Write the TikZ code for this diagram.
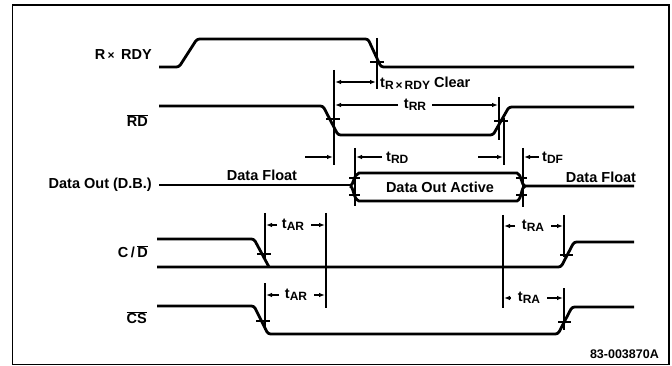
\documentclass[tikz,border=0pt]{standalone}
\usepackage{fontspec}
\setmainfont{Liberation Sans}
\usetikzlibrary{arrows.meta}
\tikzset{
  sig/.style={line width=2.8pt, line join=round, rounded corners=2.5pt},
  dim/.style={line width=1.1pt},
  arr/.style={line width=1.1pt, -{Latex[length=6pt,width=4.5pt]}},
  dblarr/.style={line width=1.1pt, {Latex[length=6pt,width=4.5pt]}-{Latex[length=6pt,width=4.5pt]}},
  tk/.style={line width=1.3pt},
  lbl/.style={font=\bfseries\fontsize{14.5}{16}\selectfont, inner sep=0pt},
  tl/.style={font=\bfseries\fontsize{14.5}{16}\selectfont, inner sep=0pt},
}
\newcommand{\tsub}[1]{t\raisebox{-0.3ex}{\fontsize{12}{12}\selectfont #1}}
\begin{document}
\begin{tikzpicture}[x=1pt,y=-1pt]
\useasboundingbox (0,0) rectangle (672,366);
% frame
\draw[line width=1.4pt] (12.5,5) rectangle (669,364.5);

% labels left
\node[lbl, anchor=east] (lrx) at (152,55) {R\,{\fontsize{12}{12}\selectfont×}\, RDY};
\node[lbl, anchor=east] (lrd) at (148,121) {$\overline{\hbox{RD}}$};
\node[lbl, anchor=east] (ldo) at (152,185) {Data Out (D.B.)};
\node[lbl, anchor=east] (lcd) at (148,252) {C\,/\,$\overline{\hbox{D}}$};
\node[lbl, anchor=east] (lcs) at (147,318) {$\overline{\hbox{CS}}$};

% R x RDY
\draw[sig] (159,67) -- (179,67) -- (197,39) -- (368,39) -- (381,67) -- (634,67);
\draw[dim] (377,38) -- (377,89);
\draw[tk] (370,62) -- (384,62);

% RD
\draw[sig] (159,106) -- (323,106) -- (338,135) -- (493,135) -- (509,107) -- (634,107);
\draw[dim] (334,70) -- (334,165);
\draw[tk] (326,119) -- (340,119);
\draw[dim] (499,97) -- (499,140);
\draw[dim] (504,118) -- (504,165);
\draw[tk] (494,121) -- (508,121);

% tR x RDY clear
\draw[dblarr] (335,82) -- (376,82);
\node[tl, anchor=west] (tclr) at (380,83) {t\raisebox{-0.3ex}{\fontsize{12}{12}\selectfont R\,×\,RDY} Clear};

% tRR
\draw[arr] (398,105) -- (335,105);
\draw[arr] (432,105) -- (498,105);
\node[tl] (trr) at (415,105) {\tsub{RR}};

% tRD
\draw[arr] (305,157) -- (333,157);
\draw[dim] (355,148) -- (355,206);
\draw[arr] (382,157) -- (356,157);
\node[tl, anchor=west] (trd) at (386,158) {\tsub{RD}};

% tDF
\draw[arr] (478,157) -- (503,157);
\draw[dim] (523,148) -- (523,207);
\draw[arr] (539,157) -- (524,157);
\node[tl, anchor=west] (tdf) at (542,158) {\tsub{DF}};

% Data out
\draw[sig] (159,185) -- (350,185);
\draw[line width=2.8pt] (350,186) .. controls (354,185) and (353,175) .. (359,173) -- (517,173)
  .. controls (522,175) and (521,185) .. (525,186) -- (634,186);
\draw[line width=2.8pt] (350,186) .. controls (354,187) and (353,199) .. (359,201) -- (517,201)
  .. controls (522,199) and (521,187) .. (525,186);
\draw[tk] (349,178) -- (360,178);
\draw[tk] (349,195) -- (360,195);
\draw[tk] (516,178) -- (527,178);
\draw[tk] (516,195) -- (527,195);
\node[lbl] (df1) at (262,175) {Data Float};
\node[lbl] (doa) at (440,187) {Data Out Active};
\node[lbl] (df2) at (601,177) {Data Float};

% C/D
\draw[sig] (157,239) -- (254,239) -- (269,267);
\draw[sig] (157,267) -- (561,267) -- (574,242) -- (634,242);
\draw[tk] (257,254) -- (271,254);
\draw[tk] (560,255) -- (573,255);

% CS
\draw[sig] (157,306) -- (254,306) -- (268,334) -- (558,334) -- (572,307) -- (634,307);
\draw[tk] (256,321) -- (270,321);
\draw[tk] (558,322) -- (571,322);

% tAR / tRA verticals
\draw[dim] (265,213) -- (265,258);
\draw[dim] (265,283) -- (265,330);
\draw[dim] (326,213) -- (326,308);
\draw[dim] (503,215) -- (503,308);
\draw[dim] (564,215) -- (564,257);
\draw[dim] (564,288) -- (564,330);

\draw[arr] (277,225) -- (266,225);
\node[tl] (tar1) at (293,225) {\tsub{AR}};
\draw[arr] (311,225) -- (325,225);
\draw[arr] (279,295) -- (266,295);
\node[tl] (tar2) at (296,295) {\tsub{AR}};
\draw[arr] (314,295) -- (325,295);

\draw[arr] (515,226) -- (504,226);
\node[tl] (tra1) at (533,226) {\tsub{RA}};
\draw[arr] (551,226) -- (563,226);
\draw[arr] (511,298) -- (504,298);
\node[tl] (tra2) at (529,298) {\tsub{RA}};
\draw[arr] (547,298) -- (563,298);

% footer
\node[font=\bfseries\fontsize{12.5}{14}\selectfont, inner sep=0pt, anchor=east] (fid) at (659,354) {83-003870A};
\end{tikzpicture}
\end{document}
